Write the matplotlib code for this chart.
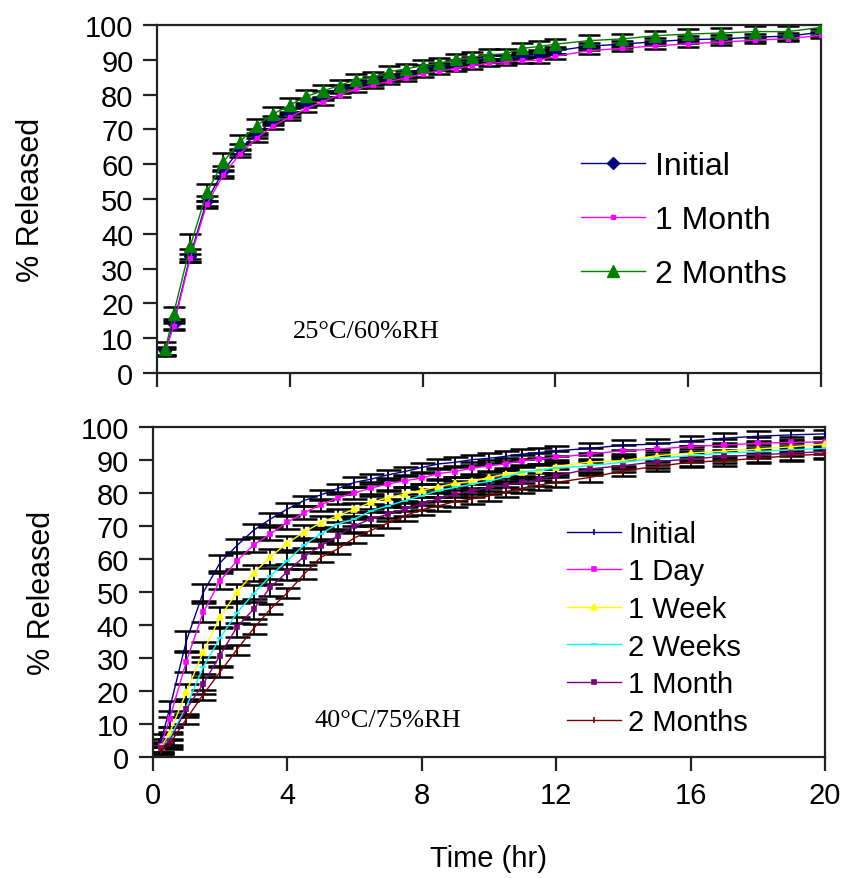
import matplotlib
matplotlib.use("Agg")
import matplotlib.pyplot as plt

# ---------------- data ----------------
time_hr = [0.25, 0.5, 1, 1.5, 2, 2.5, 3, 3.5, 4, 4.5, 5, 5.5, 6, 6.5, 7, 7.5, 8,
           8.5, 9, 9.5, 10, 10.5, 11, 11.5, 12, 13, 14, 15, 16, 17, 18, 19, 20]

# Top panel: 25C/60%RH
top_labels = ["Initial", "1 Month", "2 Months"]
top_initial = [6.4, 14.1, 33.7, 49.5, 58.1, 64.4, 68.7, 72.5, 74.9, 77.6, 79.7, 81.6, 83.0,
               84.0, 85.0, 85.9, 87.5, 88.1, 88.8, 89.7, 90.3, 90.4, 91.2, 91.7, 92.6, 93.9,
               94.5, 95.2, 95.8, 96.0, 96.5, 96.8, 97.9]
top_1month = [6.0, 13.5, 33.0, 48.5, 57.0, 63.0, 67.5, 71.0, 73.5, 76.0, 78.0, 80.0, 81.5,
              82.7, 83.8, 84.8, 86.0, 86.8, 87.5, 88.3, 89.0, 89.3, 89.8, 89.9, 91.0, 92.6,
              93.3, 94.0, 94.6, 95.1, 95.6, 96.1, 97.0]
top_2months = [6.8, 17.0, 36.4, 51.9, 60.7, 66.5, 71.1, 74.4, 77.0, 79.5, 81.1, 82.6, 84.3,
               85.0, 86.6, 87.4, 88.3, 89.0, 90.2, 90.7, 91.5, 91.7, 93.3, 93.8, 94.5, 95.5,
               96.0, 96.9, 97.4, 97.7, 98.1, 98.1, 99.3]
top_err_initial = [1.2, 1.5, 1.8, 1.5, 1.5, 1.4, 1.3, 1.3, 1.2, 1.2, 1.2, 1.1, 1.1, 1.1, 1.0,
                   1.0, 1.0, 1.0, 1.0, 1.0, 1.0, 1.0, 1.0, 1.0, 1.0, 1.0, 1.0, 1.0, 1.0, 1.0,
                   1.0, 1.0, 1.0]
top_err_1month = [0.8, 1.0, 1.2, 1.0, 1.0, 1.0, 1.0, 0.9, 0.9, 0.9, 0.9, 0.8, 0.8, 0.8, 0.8,
                  0.8, 0.8, 0.8, 0.8, 0.8, 0.8, 0.8, 0.8, 0.8, 0.8, 0.8, 0.8, 0.8, 0.8, 0.8,
                  0.8, 0.8, 0.8]
top_err_2months = [2.0, 2.0, 3.5, 2.5, 2.5, 2.0, 2.0, 2.0, 2.0, 1.8, 1.8, 1.6, 1.6, 1.5, 1.5,
                   1.5, 1.5, 1.5, 1.5, 1.5, 1.5, 1.5, 1.5, 1.5, 1.5, 1.5, 1.5, 1.5, 1.5, 1.5,
                   1.5, 1.5, 1.2]

# Bottom panel: 40C/75%RH
bot_labels = ["Initial", "1 Day", "1 Week", "2 Weeks", "1 Month", "2 Months"]
bot_initial = [5.0, 14.6, 35.2, 49.9, 58.9, 64.1, 68.8, 72.2, 75.2, 77.8, 79.5, 81.4, 83.3,
               84.3, 85.6, 86.6, 87.8, 88.9, 89.4, 90.2, 90.6, 91.2, 91.9, 92.3, 92.9, 93.6,
               94.6, 94.9, 95.9, 96.7, 97.3, 97.7, 98.0]
bot_1day = [3.5, 11.6, 29.0, 43.9, 53.4, 59.5, 64.3, 67.7, 71.2, 74.1, 76.5, 78.6, 80.1,
            81.6, 82.8, 83.8, 84.6, 86.0, 86.6, 87.6, 88.3, 88.9, 89.9, 90.4, 90.9, 91.9,
            92.9, 93.4, 94.2, 94.6, 95.2, 95.4, 95.6]
bot_1week = [3.0, 7.3, 19.7, 32.0, 42.4, 50.0, 55.8, 60.7, 64.9, 68.2, 71.1, 73.2, 75.2,
             77.3, 78.6, 79.8, 80.9, 82.0, 83.0, 83.6, 84.8, 85.8, 86.6, 87.0, 88.1, 89.5,
             89.9, 91.4, 92.2, 92.8, 93.4, 94.1, 94.9]
bot_2weeks = [2.5, 5.8, 15.3, 27.3, 36.1, 43.7, 49.6, 55.0, 59.6, 64.3, 67.7, 70.7, 72.2,
              74.7, 76.2, 77.8, 79.3, 80.8, 81.8, 82.8, 83.6, 85.0, 86.4, 87.0, 87.6, 88.4,
              89.4, 90.6, 91.4, 92.2, 92.6, 93.2, 93.6]
bot_1month = [2.8, 5.0, 14.6, 22.2, 30.8, 39.4, 44.9, 51.5, 56.2, 60.8, 64.1, 67.0, 70.2,
              72.2, 73.7, 75.2, 76.8, 78.3, 79.8, 80.8, 81.8, 82.5, 83.3, 84.3, 85.3, 87.4,
              88.4, 89.6, 90.4, 91.2, 91.6, 92.2, 92.6]
bot_2months = [2.0, 4.0, 11.6, 19.0, 25.8, 32.6, 39.0, 44.9, 49.8, 55.5, 60.6, 63.1, 66.5,
               68.8, 71.0, 73.2, 75.0, 76.2, 77.5, 78.3, 79.2, 80.5, 81.6, 82.5, 83.3, 84.8,
               86.8, 88.2, 89.4, 89.9, 90.6, 91.4, 91.9]
bot_err_initial = [2.0, 2.5, 3.0, 2.5, 2.5, 2.0, 2.0, 1.8, 1.8, 1.5, 1.5, 1.5, 1.5, 1.5, 1.5,
                   1.5, 1.5, 1.5, 1.5, 1.5, 1.5, 1.5, 1.5, 1.5, 1.5, 1.5, 1.5, 1.5, 1.5, 1.5,
                   1.5, 1.5, 1.2]
bot_err_1day = [2.0, 2.5, 3.0, 3.0, 2.5, 2.5, 2.2, 2.0, 2.0, 2.0, 1.8, 1.8, 1.8, 1.8, 1.8,
                1.8, 1.8, 1.8, 1.8, 1.8, 1.8, 1.8, 1.8, 1.8, 1.8, 1.8, 1.8, 1.8, 1.8, 1.8,
                1.8, 1.8, 1.5]
bot_err_1week = [1.5, 2.0, 2.5, 3.0, 3.0, 2.5, 2.5, 2.5, 2.2, 2.2, 2.0, 2.0, 2.0, 2.0, 2.0,
                 2.0, 2.0, 2.0, 2.0, 2.0, 2.0, 2.0, 2.0, 2.0, 2.0, 2.0, 2.0, 2.0, 2.0, 2.0,
                 2.0, 2.0, 1.8]
bot_err_2weeks = [1.5, 2.0, 2.5, 3.0, 3.0, 3.0, 2.5, 2.5, 2.5, 2.2, 2.2, 2.0, 2.0, 2.0, 2.0,
                  2.0, 2.0, 2.0, 2.0, 2.0, 2.0, 2.0, 2.0, 2.0, 2.0, 2.0, 2.0, 2.0, 2.0, 2.0,
                  2.0, 2.0, 1.8]
bot_err_1month = [1.5, 2.0, 2.5, 3.0, 3.0, 3.0, 3.0, 2.5, 2.5, 2.5, 2.2, 2.2, 2.0, 2.0, 2.0,
                  2.0, 2.0, 2.0, 2.0, 2.0, 2.0, 2.0, 2.0, 2.0, 2.0, 2.0, 2.0, 2.0, 2.0, 2.0,
                  2.0, 2.0, 1.8]
bot_err_2months = [1.0, 1.5, 1.5, 1.5, 1.5, 1.5, 1.5, 1.5, 1.5, 1.5, 1.5, 1.5, 1.5, 1.5, 1.5,
                   1.5, 1.5, 1.5, 1.5, 1.5, 1.5, 1.5, 1.5, 1.5, 1.5, 1.5, 1.5, 1.5, 1.5, 1.5,
                   1.5, 1.5, 1.5]

x_ticks = [0, 4, 8, 12, 16, 20]
y_ticks = [0, 10, 20, 30, 40, 50, 60, 70, 80, 90, 100]

# ---------------- style ----------------
SANS = ["Liberation Sans", "DejaVu Sans"]
SERIF = ["Liberation Serif", "DejaVu Serif"]
plt.rcParams["font.family"] = SANS

fig = plt.figure(figsize=(8.44, 8.79), dpi=100)
W, H = 844.0, 879.0


def make_axes(left, top, right, bottom):
    return fig.add_axes([left / W, 1 - bottom / H, (right - left) / W, (bottom - top) / H])


def style_axes(ax, show_xlabels):
    ax.set_xlim(0, 20)
    ax.set_ylim(0, 100)
    ax.set_xticks(x_ticks)
    ax.set_yticks(y_ticks)
    for s in ax.spines.values():
        s.set_linewidth(1.6)
        s.set_color("#222222")
    ax.tick_params(direction="out", length=10, width=1.6, color="#222222",
                   labelsize=21, pad=7)
    if not show_xlabels:
        ax.set_xticklabels([])
    ax.set_ylabel("% Released", fontsize=22)


# ---------------- top panel ----------------
ax1 = make_axes(157, 26, 821, 374)
top_series = [
    (top_initial, top_err_initial, "#000080", "D", 6),
    (top_1month, top_err_1month, "#FF00FF", "s", 3),
    (top_2months, top_err_2months, "#008000", "^", 9),
]
handles = []
for (vals, err, col, mk, ms), lab in zip(top_series, top_labels):
    ax1.errorbar(time_hr, vals, yerr=err, fmt="none", ecolor="black",
                 elinewidth=1.3, capsize=8, capthick=1.8, zorder=2)
    h, = ax1.plot(time_hr, vals, color=col, lw=1.0, marker=mk, ms=ms,
                  markeredgecolor=col, label=lab, zorder=3)
    handles.append(h)
style_axes(ax1, False)
ax1.yaxis.labelpad = 28
ax1.legend(handles=handles, loc="upper left", bbox_to_anchor=(0.62, 0.675),
           frameon=False, fontsize=23, handlelength=2.0, handletextpad=0.3,
           labelspacing=0.75, borderaxespad=0)
ax1.text(6.3, 12.1, "25°C/60%RH", family=SERIF, fontsize=19,
         ha="center", va="center")

# ---------------- bottom panel ----------------
ax2 = make_axes(152.7, 428.3, 825, 758.3)
bot_series = [
    (bot_initial, bot_err_initial, "#000080", "|", 5),
    (bot_1day, bot_err_1day, "#FF00FF", "s", 3),
    (bot_1week, bot_err_1week, "#FFFF00", "^", 4),
    (bot_2weeks, bot_err_2weeks, "#00FFFF", "_", 4),
    (bot_1month, bot_err_1month, "#800080", "s", 3),
    (bot_2months, bot_err_2months, "#800000", "|", 5),
]
handles = []
for (vals, err, col, mk, ms), lab in zip(bot_series, bot_labels):
    ax2.errorbar(time_hr, vals, yerr=err, fmt="none", ecolor="black",
                 elinewidth=1.3, capsize=9, capthick=1.8, zorder=2)
for (vals, err, col, mk, ms), lab in zip(bot_series, bot_labels):
    h, = ax2.plot(time_hr, vals, color=col, lw=1.0, marker=mk, ms=ms,
                  markeredgecolor=col, markeredgewidth=1.2, label=lab, zorder=3)
    handles.append(h)
style_axes(ax2, True)
ax2.yaxis.labelpad = 17
ax2.set_xlabel("Time (hr)", fontsize=21, labelpad=25)
ax2.legend(handles=handles, loc="upper left", bbox_to_anchor=(0.599, 0.755),
           frameon=False, fontsize=21, handlelength=1.85, handletextpad=0.25,
           labelspacing=0.33, borderaxespad=0)
ax2.text(7.0, 11.3, "40°C/75%RH", family=SERIF, fontsize=19,
         ha="center", va="center")

fig.savefig("out.png", dpi=100)
